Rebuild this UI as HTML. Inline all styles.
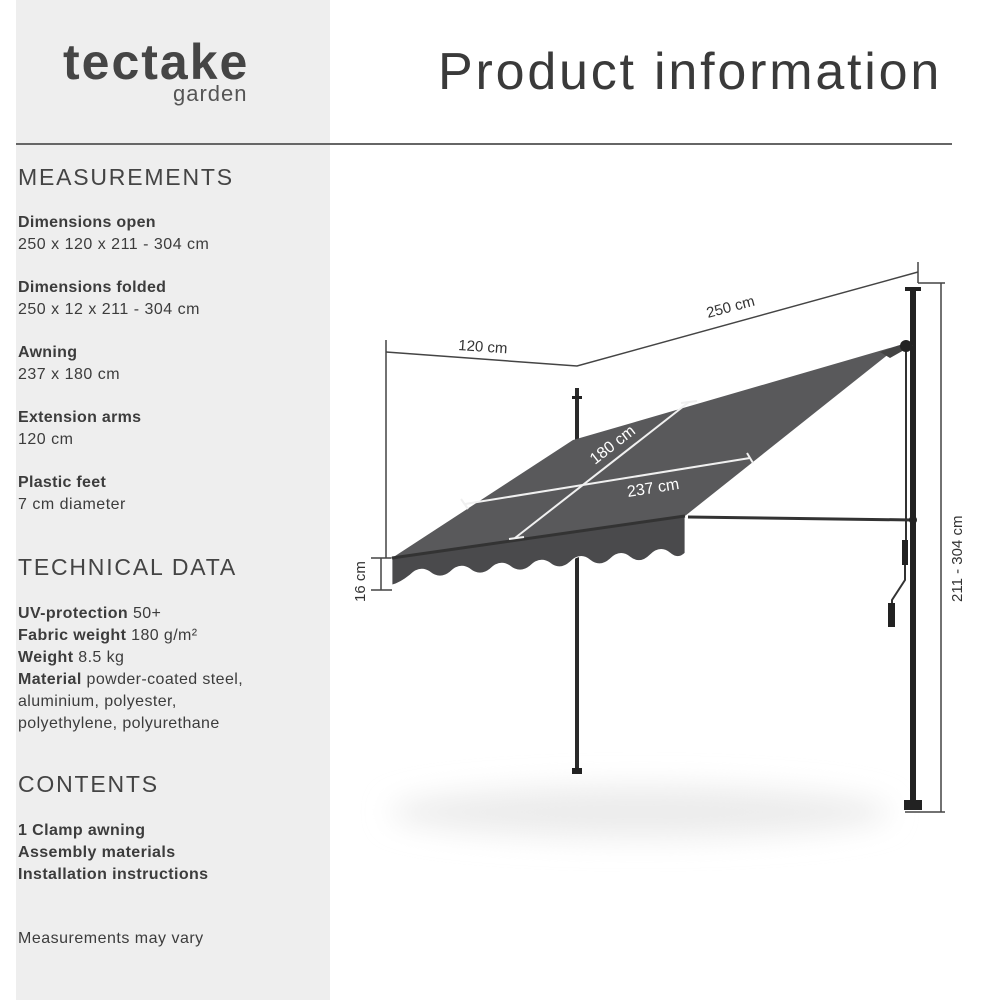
<!DOCTYPE html>
<html><head><meta charset="utf-8"><style>
html,body{margin:0;padding:0;background:#fff;}
body{width:1000px;height:1000px;position:relative;overflow:hidden;font-family:"Liberation Sans",sans-serif;color:#3c3c3c;}
.panel{position:absolute;left:16px;top:0;width:314px;height:1000px;background:#eeeeee;}
.t{position:absolute;white-space:nowrap;}
.h{font-size:23px;letter-spacing:1.8px;color:#444;}
.b{font-weight:bold;font-size:16px;letter-spacing:0.3px;}
.n{font-size:16px;letter-spacing:0.5px;}
.p{font-size:16px;line-height:22px;letter-spacing:0.4px;}
</style></head><body>
<div class="panel"></div>
<div class="t" style="left:63px;top:33px;font-size:50px;font-weight:bold;color:#454545;letter-spacing:2px;">tectake</div>
<div class="t" style="left:173px;top:81px;font-size:22px;color:#555;letter-spacing:1px;">garden</div>
<div class="t" style="left:438px;top:42px;font-size:52px;color:#3a3a3a;letter-spacing:2.8px;">Product information</div>
<div style="position:absolute;left:16px;top:143px;width:936px;height:2px;background:#666;"></div>

<div class="t h" style="left:18px;top:164px;">MEASUREMENTS</div>
<div class="t b" style="left:18px;top:214px;">Dimensions open</div>
<div class="t n" style="left:18px;top:236px;">250 x 120 x 211 - 304 cm</div>
<div class="t b" style="left:18px;top:279px;">Dimensions folded</div>
<div class="t n" style="left:18px;top:301px;">250 x 12 x 211 - 304 cm</div>
<div class="t b" style="left:18px;top:344px;">Awning</div>
<div class="t n" style="left:18px;top:366px;">237 x 180 cm</div>
<div class="t b" style="left:18px;top:409px;">Extension arms</div>
<div class="t n" style="left:18px;top:431px;">120 cm</div>
<div class="t b" style="left:18px;top:474px;">Plastic feet</div>
<div class="t n" style="left:18px;top:496px;">7 cm diameter</div>

<div class="t h" style="left:18px;top:554px;">TECHNICAL DATA</div>
<div class="t p" style="left:18px;top:603px;"><b>UV-protection</b> 50+<br><b>Fabric weight</b> 180 g/m²<br><b>Weight</b> 8.5 kg<br><b>Material</b> powder-coated steel,<br>aluminium, polyester,<br>polyethylene, polyurethane</div>

<div class="t h" style="left:18px;top:771px;">CONTENTS</div>
<div class="t p" style="left:18px;top:820px;font-weight:bold;">1 Clamp awning<br>Assembly materials<br>Installation instructions</div>
<div class="t n" style="left:18px;top:930px;">Measurements may vary</div>

<svg width="1000" height="1000" style="position:absolute;left:0;top:0" xmlns="http://www.w3.org/2000/svg">
<defs><filter id="bl" x="-50%" y="-200%" width="200%" height="500%"><feGaussianBlur stdDeviation="14"/></filter></defs>
<ellipse cx="640" cy="812" rx="250" ry="26" fill="#ececec" filter="url(#bl)"/>
<g stroke="#444" stroke-width="1.5" fill="none">
<line x1="386" y1="340" x2="386" y2="558"/>
<polyline points="386,352 577,366 918,272"/>
<line x1="918" y1="262" x2="918" y2="283"/>
<line x1="918" y1="283" x2="945" y2="283"/>
<line x1="941" y1="283" x2="941" y2="812"/>
<line x1="905" y1="812" x2="945" y2="812"/>
<line x1="381" y1="558" x2="381" y2="590"/>
<line x1="371" y1="558" x2="392" y2="558"/>
<line x1="371" y1="590" x2="392" y2="590"/>
</g>
<line x1="577" y1="388" x2="577" y2="773" stroke="#2a2a2a" stroke-width="4"/>
<rect x="572" y="396" width="10" height="3" fill="#222"/>
<rect x="572" y="768" width="10" height="6" fill="#222"/>
<line x1="913" y1="288" x2="913" y2="810" stroke="#222" stroke-width="6"/>
<rect x="905" y="287" width="16" height="4" fill="#222"/>
<rect x="904" y="800" width="18" height="10" fill="#222"/>
<line x1="906" y1="350" x2="906" y2="540" stroke="#333" stroke-width="2"/>
<rect x="902" y="540" width="6" height="25" fill="#222"/>
<path d="M905 565 L905 580 L892 600 L892 610" stroke="#333" stroke-width="2" fill="none"/>
<rect x="888" y="603" width="7" height="24" fill="#222"/>
<line x1="688" y1="517" x2="913" y2="520" stroke="#333" stroke-width="3"/>
<circle cx="913" cy="520" r="4" fill="#222"/>
<polygon points="392,558 573,440 900,345 685,516" fill="#59595b"/>
<polygon points="880,352 900,345 913,345 890,358" fill="#444"/>
<circle cx="906" cy="346" r="6" fill="#222"/>
<path d="M392,558 L685,516 L685,553 Q678,560 670,553 Q660,545 650,555 Q640,565 630,557 Q620,549 610,559 Q600,568 590,560 Q580,552 570,562 Q560,571 550,563 Q540,556 530,566 Q520,574 510,566 Q500,559 490,569 Q480,577 470,569 Q460,562 450,572 Q440,580 430,572 Q420,565 410,575 Q400,583 392,585 Z" fill="#4a4a4c" stroke="#fff" stroke-width="0.8"/>
<line x1="392" y1="558" x2="685" y2="516" stroke="#333" stroke-width="3"/>
<g stroke="#f0f0f0" stroke-width="2">
<line x1="465" y1="504" x2="750" y2="458"/>
<line x1="461" y1="499" x2="468" y2="509"/>
<line x1="747" y1="453" x2="753" y2="463"/>
<line x1="515" y1="538" x2="689" y2="402"/>
<line x1="509" y1="539" x2="524" y2="537"/>
<line x1="681" y1="403" x2="697" y2="401"/>
</g>
<g font-family="Liberation Sans,sans-serif" font-size="15" fill="#333">
<text x="458" y="350" transform="rotate(4 458 350)">120 cm</text>
<text x="708" y="318" transform="rotate(-15 708 318)">250 cm</text>
<text x="962" y="602" transform="rotate(-90 962 602)">211 - 304 cm</text>
<text x="365" y="602" transform="rotate(-90 365 602)">16 cm</text>
</g>
<g font-family="Liberation Sans,sans-serif" font-size="16" fill="#fff">
<text x="595" y="465" transform="rotate(-38 595 465)">180 cm</text>
<text x="628" y="497" transform="rotate(-9 628 497)">237 cm</text>
</g>
</svg>
</body></html>
